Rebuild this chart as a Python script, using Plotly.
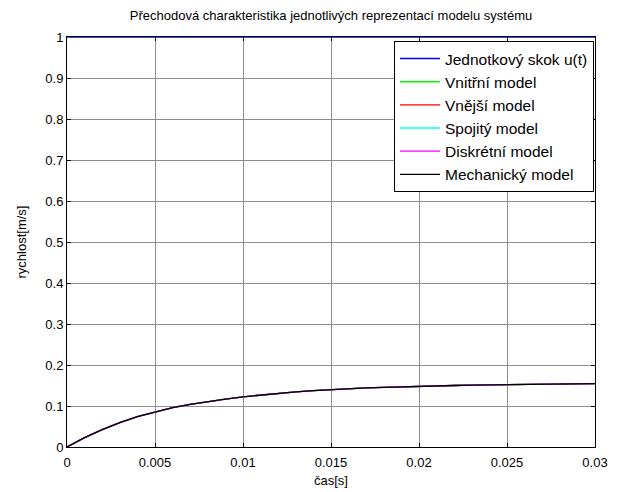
import plotly.graph_objects as go

t = [0.000, 0.001, 0.002, 0.003, 0.004, 0.005, 0.006, 0.007, 0.008, 0.009,
     0.010, 0.011, 0.012, 0.013, 0.014, 0.015, 0.016, 0.017, 0.018, 0.019,
     0.020, 0.021, 0.022, 0.023, 0.024, 0.025, 0.026, 0.027, 0.028, 0.029, 0.030]
response = [0.0000, 0.0227, 0.0424, 0.0595, 0.0743, 0.0850, 0.0960, 0.1040, 0.1110, 0.1170,
            0.1225, 0.1270, 0.1310, 0.1345, 0.1375, 0.1400, 0.1420, 0.1440, 0.1455, 0.1470,
            0.1480, 0.1490, 0.1500, 0.1510, 0.1515, 0.1520, 0.1530, 0.1535, 0.1540, 0.1540, 0.1545]
step_t = [0.0, 0.03]
step_u = [1.0, 1.0]

series_names = ["Vnitřní model", "Vnější model", "Spojitý model", "Diskrétní model", "Mechanický model"]
series_colors = ["#00ff00", "#ff0000", "#00ffff", "#ff00ff", "#000000"]

xticks = [0, 0.005, 0.01, 0.015, 0.02, 0.025, 0.03]
xticklabels = ["0", "0.005", "0.01", "0.015", "0.02", "0.025", "0.03"]
yticks = [0, 0.1, 0.2, 0.3, 0.4, 0.5, 0.6, 0.7, 0.8, 0.9, 1]
yticklabels = ["0", "0.1", "0.2", "0.3", "0.4", "0.5", "0.6", "0.7", "0.8", "0.9", "1"]

FONT = "Liberation Sans, Arial"
W, H = 619, 484  # page body has an 8px margin

fig = go.Figure()
fig.add_trace(go.Scatter(x=step_t, y=step_u, mode="lines", name="Jednotkový skok u(t)",
                         line=dict(color="#0000ff", width=1.5), cliponaxis=False))
for name, col in zip(series_names, series_colors):
    fig.add_trace(go.Scatter(x=t, y=response, mode="lines", name=name,
                             line=dict(color=col, width=1.3)))

axis_common = dict(showline=True, linecolor="black", linewidth=1, mirror="ticks",
                   ticks="inside", ticklen=4, tickcolor="black",
                   showgrid=True, gridcolor="#8c8c8c", gridwidth=1,
                   zeroline=False, layer="below traces", automargin=False,
                   tickfont=dict(family=FONT, size=13, color="black"))

fig.update_xaxes(range=[0, 0.03], tickvals=xticks, ticktext=xticklabels, ticklabelstandoff=3,
                 title=dict(text="čas[s]", font=dict(family=FONT, size=13, color="black"), standoff=7),
                 **axis_common)
fig.update_yaxes(range=[0, 1], tickvals=yticks, ticktext=yticklabels,
                 title=dict(text="rychlost[m/s]", font=dict(family=FONT, size=13, color="black"), standoff=15),
                 **axis_common)

fig.update_layout(
    width=W, height=H,
    margin=dict(l=59, r=W - 59 - 528, t=29, b=H - 29 - 410),
    paper_bgcolor="white", plot_bgcolor="white",
    title=dict(text="Přechodová charakteristika jednotlivých reprezentací modelu systému",
               x=(59 + 59 + 528) / 2 / W, xanchor="center", y=1 - 7 / H, yanchor="middle",
               font=dict(family=FONT, size=13, color="black")),
    legend=dict(x=(586 - 59) / 528, y=(410 - 4) / 410, xanchor="right", yanchor="top",
                bgcolor="white", bordercolor="black", borderwidth=1,
                font=dict(family=FONT, size=15.5, color="black"),
                tracegroupgap=0, itemwidth=40),
    showlegend=True,
)

fig.write_html("out.html")
